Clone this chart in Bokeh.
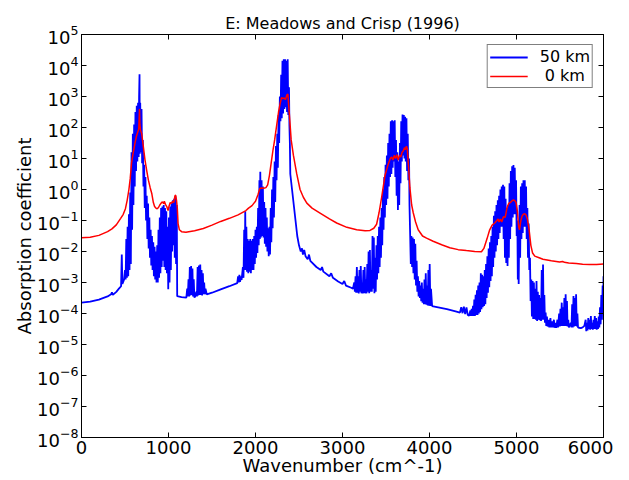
from bokeh.plotting import figure
from bokeh.models import (Range1d, FixedTicker, LinearAxis, LogAxis, Legend,
                          LegendItem, ColumnDataSource)
from bokeh.embed import file_html
from bokeh.resources import INLINE

# ---------------- data (wavenumber in cm^-1, log10 of absorption coefficient) -------------
title_text = "E: Meadows and Crisp (1996)"
x_ticks = [0, 1000, 2000, 3000, 4000, 5000, 6000]
y_ticks = [1e-8, 1e-7, 1e-6, 1e-5, 1e-4, 1e-3, 1e-2, 1e-1, 1e0, 1e1, 1e2, 1e3, 1e4, 1e5]
series_labels = ["50 km", "\u00a00 km"]

blue_50km = [
    (0, -3.65), (100, -3.62), (200, -3.55), (300, -3.45), (340, -3.38), (350, -3.32), (360, -3.4),
    (400, -3.3), (430, -3.2), (455, -3.12), (463, -2.1), (470, -3.05), (490, -2.9),
    (500, -2.6), (507, -2.9), (515, -1.6), (522, -2.85), (530, -1.2), (537, -2.8), (545, -0.8),
    (552, -2.6), (560, -0.1), (567, -2.4), (575, 1.2), (582, -1.3), (590, 1.8), (597, -0.5),
    (605, 2.1), (612, 0.1), (620, 2.5), (627, 0.6), (635, 2.7), (642, 0.9), (650, 2.8),
    (657, 1.05), (662, 3.0), (667, 3.72), (670, 1.15), (675, 2.8), (682, 1.2), (690, 2.6),
    (697, 0.85), (705, 1.6), (712, 0.1), (720, 0.8), (727, -0.6), (735, 0.4), (742, -1.0),
    (750, -0.2), (757, -1.6), (765, -0.45), (772, -1.9), (780, -0.9), (787, -2.2), (795, -1.3),
    (802, -2.45), (810, -1.5), (817, -2.6), (825, -1.7), (832, -2.8), (840, -1.85), (847, -2.9),
    (855, -2.0), (862, -3.0), (870, -1.8), (877, -3.0), (885, -1.3), (892, -2.85), (900, -0.9),
    (907, -2.7), (915, -0.6), (922, -2.5), (930, -0.55), (937, -2.3), (945, -0.5), (952, -2.5),
    (960, -0.6), (967, -2.6), (975, -0.7), (982, -2.7), (990, -1.2), (997, -3.22), (1005, -0.9),
    (1012, -3.0), (1020, -0.55), (1027, -2.6), (1035, -0.45), (1042, -2.0), (1050, -0.35),
    (1057, -1.8), (1065, -0.3), (1072, -2.2), (1080, -0.22), (1087, -2.4), (1095, -0.5),
    (1100, -3.44), (1150, -3.47), (1205, -3.49),
    (1215, -3.2), (1222, -3.45), (1230, -2.9), (1237, -3.45), (1245, -2.5), (1252, -3.42),
    (1260, -2.47), (1267, -3.4), (1275, -2.55), (1282, -3.45), (1290, -2.9), (1297, -3.48),
    (1305, -3.46), (1320, -3.3), (1327, -3.45), (1335, -2.5), (1342, -3.42), (1350, -2.45),
    (1357, -3.4), (1365, -2.42), (1372, -3.4), (1380, -2.6), (1387, -3.42), (1395, -2.7),
    (1402, -3.38), (1410, -3.0), (1417, -3.38), (1425, -3.2), (1440, -3.38),
    (1500, -3.33), (1600, -3.22), (1700, -3.12), (1790, -3.02), (1800, -2.8), (1808, -3.0),
    (1815, -2.75), (1822, -2.98), (1830, -2.8), (1840, -2.92),
    (1855, -2.5), (1862, -2.85), (1870, -1.3), (1877, -2.6), (1882, -0.7), (1888, -2.6),
    (1895, -1.2), (1902, -2.65), (1910, -1.6), (1917, -2.7), (1925, -1.65), (1932, -2.65),
    (1940, -1.6), (1947, -2.7), (1955, -1.65), (1962, -2.6), (1970, -1.6), (1977, -2.6),
    (1985, -1.5), (1992, -2.4), (2000, -1.3), (2007, -2.2), (2015, -1.2), (2022, -2.05),
    (2030, -0.6), (2037, -1.8), (2045, 0.3), (2050, -1.6), (2055, 0.57), (2062, -1.55),
    (2070, 0.3), (2077, -1.5), (2085, 0.1), (2092, -1.55), (2100, -0.4), (2107, -1.75),
    (2115, -0.6), (2122, -1.85), (2130, -0.9), (2137, -2.0), (2145, -1.25), (2152, -2.15),
    (2160, -1.2), (2167, -2.1), (2175, -0.6), (2182, -1.7), (2190, 0.0), (2197, -1.25),
    (2205, 0.4), (2212, -0.9), (2220, 0.9), (2227, -0.4), (2235, 1.4), (2242, 0.3),
    (2250, 1.8), (2257, 0.7), (2265, 2.4), (2272, 1.5), (2280, 3.0), (2287, 2.2),
    (2295, 3.7), (2302, 2.3), (2310, 4.15), (2317, 2.45), (2325, 4.2), (2332, 2.6),
    (2340, 4.2), (2347, 2.65), (2355, 4.15), (2362, 2.5), (2370, 4.2), (2377, 2.4),
    (2385, 3.3), (2390, 2.05), (2395, 1.5), (2400, 0.5), (2420, 0.0), (2440, -0.5),
    (2460, -1.0), (2480, -1.5), (2500, -1.8), (2520, -2.0), (2535, -1.9), (2545, -2.1),
    (2560, -1.95), (2575, -2.15), (2600, -2.25), (2615, -2.1), (2630, -2.3), (2700, -2.5),
    (2750, -2.6), (2765, -2.5), (2780, -2.65), (2850, -2.8), (2870, -2.7), (2890, -2.85),
    (2950, -2.97), (3000, -3.05), (3020, -2.95), (3040, -3.1), (3100, -3.17), (3120, -3.2),
    (3135, -3.0), (3142, -3.3), (3150, -2.8), (3157, -3.33), (3165, -2.5), (3172, -3.33),
    (3180, -2.8), (3187, -3.35), (3195, -2.6), (3202, -3.3), (3210, -2.47), (3217, -3.35),
    (3225, -3.0), (3232, -3.35), (3240, -2.6), (3247, -3.35), (3255, -2.5), (3262, -3.35),
    (3270, -2.9), (3277, -3.35), (3285, -2.4), (3292, -3.3), (3300, -2.0), (3307, -3.35),
    (3315, -1.95), (3322, -3.3), (3330, -2.6), (3337, -3.3), (3345, -1.5), (3352, -3.2),
    (3360, -1.55), (3367, -3.35), (3375, -2.2), (3382, -3.3), (3390, -1.8), (3397, -2.9),
    (3405, -1.5), (3412, -2.7), (3420, -1.2), (3427, -2.5), (3435, -0.9), (3442, -2.2),
    (3450, -0.6), (3457, -1.8), (3465, 0.0), (3472, -1.3), (3480, 0.4), (3487, -0.9),
    (3495, 0.8), (3502, -0.5), (3510, 1.1), (3517, -0.3), (3525, 1.5), (3532, 0.1),
    (3540, 1.8), (3547, 0.4), (3555, 2.2), (3562, 0.5), (3570, 2.23), (3577, 0.7),
    (3585, 2.2), (3592, 0.9), (3600, 2.23), (3607, 0.4), (3615, 1.6), (3622, -0.2),
    (3630, 1.2), (3637, -0.66), (3645, 0.9), (3652, -0.5), (3660, 1.5), (3667, 0.2),
    (3675, 2.2), (3682, 0.9), (3690, 2.42), (3697, 1.1), (3705, 2.4), (3712, 1.0),
    (3720, 2.35), (3727, 0.9), (3735, 2.3), (3742, 0.6), (3750, 1.8), (3757, 0.3),
    (3765, 1.0), (3770, -0.5), (3778, -1.5),
    (3785, -2.4), (3792, -1.5), (3800, -2.5), (3807, -1.55), (3815, -2.7), (3822, -1.6),
    (3830, -2.9), (3837, -1.75), (3845, -3.1), (3852, -2.3), (3860, -3.3), (3867, -2.8),
    (3875, -3.45), (3882, -2.95), (3890, -3.5), (3897, -3.1), (3905, -3.6), (3912, -3.0),
    (3920, -3.65), (3927, -3.2), (3935, -3.7), (3942, -2.9), (3950, -3.7), (3957, -2.7),
    (3965, -3.72), (3972, -3.1), (3980, -3.74), (3987, -2.6), (3995, -3.75), (4002, -2.4),
    (4010, -3.76), (4017, -3.2), (4030, -3.76), (4100, -3.8), (4200, -3.86), (4300, -3.93),
    (4350, -3.97), (4365, -3.8), (4380, -3.99), (4395, -3.78), (4410, -4.02), (4425, -3.8),
    (4440, -4.05), (4455, -4.07),
    (4470, -3.9), (4477, -4.08), (4485, -3.85), (4492, -4.08), (4500, -3.75), (4507, -4.08),
    (4515, -3.55), (4522, -4.08), (4530, -3.4), (4537, -4.05), (4545, -3.25), (4552, -4.05),
    (4560, -3.1), (4567, -4.0), (4575, -3.0), (4582, -3.95), (4590, -2.7), (4597, -3.86),
    (4605, -2.75), (4612, -3.8), (4620, -2.8), (4627, -3.76), (4635, -2.6), (4642, -3.7),
    (4650, -2.4), (4657, -3.5), (4665, -2.15), (4672, -3.33), (4680, -1.9), (4687, -3.15),
    (4695, -1.7), (4702, -2.95), (4710, -1.5), (4717, -2.8), (4725, -1.2), (4732, -2.5),
    (4740, -0.85), (4747, -2.2), (4755, -0.7), (4762, -2.0), (4770, -0.5), (4777, -1.8),
    (4785, -0.35), (4792, -1.6), (4800, -0.2), (4807, -1.4), (4815, 0.0), (4822, -1.2),
    (4830, 0.1), (4837, -1.2), (4845, 0.15), (4852, -1.6), (4860, 0.1), (4867, -2.2),
    (4875, -0.3), (4882, -2.37), (4890, -0.6), (4897, -2.47), (4905, -0.5), (4912, -2.2),
    (4920, 0.2), (4927, -1.6), (4935, 0.6), (4942, -1.2), (4950, 0.75), (4957, -0.9),
    (4965, 0.79), (4972, -0.8), (4980, 0.7), (4987, -0.8), (4995, 0.3), (5002, -1.5),
    (5010, -1.0), (5015, -2.9), (5020, -1.5), (5025, -3.05), (5035, -0.5), (5042, -2.2),
    (5050, 0.1), (5057, -1.6), (5065, 0.2), (5072, -1.4), (5080, 0.3), (5087, -1.2),
    (5095, 0.3), (5102, -1.2), (5110, 0.1), (5117, -1.6), (5125, -0.6), (5132, -2.2),
    (5140, -1.1), (5147, -2.6), (5155, -2.2), (5162, -3.6), (5170, -2.9), (5177, -4.1),
    (5185, -2.95), (5192, -4.18), (5200, -3.0), (5207, -4.18), (5215, -3.2), (5222, -4.2),
    (5230, -2.95), (5237, -4.24), (5245, -3.3), (5252, -4.2), (5260, -3.4), (5267, -4.22),
    (5275, -3.5), (5282, -4.24), (5290, -2.6), (5297, -4.2), (5305, -2.42), (5312, -4.2),
    (5320, -3.4), (5327, -4.3), (5335, -3.97), (5342, -4.4), (5350, -4.1), (5357, -4.42),
    (5370, -4.2), (5377, -4.45), (5390, -4.15), (5397, -4.45), (5410, -4.25), (5417, -4.45),
    (5430, -4.2), (5437, -4.46), (5450, -4.3), (5457, -4.46), (5470, -4.2), (5477, -4.45),
    (5490, -4.0), (5497, -4.42), (5505, -3.85), (5512, -4.4), (5520, -3.65), (5527, -4.4),
    (5535, -3.8), (5542, -4.4), (5550, -3.5), (5557, -4.4), (5565, -3.38), (5572, -4.4),
    (5580, -3.6), (5587, -4.42), (5595, -4.2), (5602, -4.45), (5610, -4.4), (5625, -4.3),
    (5632, -4.45), (5640, -3.7), (5647, -4.45), (5655, -3.44), (5662, -4.42), (5670, -3.5),
    (5677, -4.4), (5685, -3.38), (5692, -4.42), (5700, -4.0), (5707, -4.45), (5720, -4.46),
    (5740, -4.47), (5760, -4.45), (5780, -4.4), (5795, -4.2), (5802, -4.57), (5810, -4.3),
    (5817, -4.55), (5825, -4.15), (5832, -4.5), (5840, -4.2), (5847, -4.52), (5855, -4.08),
    (5862, -4.5), (5870, -4.3), (5877, -4.52), (5885, -4.2), (5892, -4.5), (5900, -4.08),
    (5907, -4.5), (5915, -4.15), (5922, -4.52), (5930, -4.25), (5937, -4.5), (5945, -4.1),
    (5952, -4.45), (5960, -3.8), (5967, -4.35), (5975, -3.4), (5982, -4.2), (5990, -3.1),
    (5995, -4.0), (6000, -2.8),
]

red_0km = [
    (0, -1.56), (100, -1.54), (200, -1.48), (300, -1.36), (350, -1.27), (400, -1.14),
    (450, -0.93), (480, -0.8), (505, -0.62), (525, -0.35), (545, 0.0), (560, 0.35),
    (575, 0.85), (595, 1.2), (615, 1.5), (630, 1.7), (646, 1.85), (658, 1.95), (663, 2.3),
    (667, 2.6), (671, 2.1), (678, 1.92), (692, 1.8), (710, 1.4), (730, 0.95), (750, 0.6),
    (769, 0.3), (790, 0.05), (807, -0.12), (826, -0.42), (840, -0.55), (855, -0.6),
    (870, -0.62), (885, -0.58), (900, -0.5), (915, -0.44), (930, -0.4), (945, -0.45),
    (952, -0.38), (965, -0.48), (980, -0.55), (995, -0.68), (1005, -0.55), (1020, -0.42),
    (1035, -0.45), (1045, -0.38), (1060, -0.42), (1075, -0.2), (1082, -0.18), (1092, -0.35),
    (1101, -0.6), (1110, -1.1), (1125, -1.3), (1150, -1.36), (1200, -1.38), (1300, -1.33),
    (1400, -1.26), (1500, -1.15), (1600, -1.03), (1700, -0.93), (1800, -0.82), (1890, -0.68),
    (1920, -0.6), (1960, -0.52), (2000, -0.38), (2030, -0.15), (2050, 0.03), (2070, 0.05),
    (2095, 0.04), (2120, 0.06), (2140, 0.15), (2160, 0.45), (2180, 0.85), (2200, 1.25),
    (2220, 1.6), (2245, 2.1), (2265, 2.5), (2285, 2.8), (2300, 2.97), (2315, 2.93),
    (2330, 2.95), (2345, 2.9), (2360, 3.05), (2372, 3.08), (2382, 2.7), (2395, 2.2),
    (2410, 1.6), (2436, 1.1), (2473, 0.52), (2512, 0.0), (2550, -0.25), (2590, -0.44),
    (2650, -0.6), (2742, -0.76), (2850, -0.95), (2933, -1.08), (3050, -1.22), (3163, -1.3),
    (3260, -1.33), (3316, -1.32), (3360, -1.25), (3392, -1.12), (3420, -0.75), (3450, -0.25),
    (3488, 0.45), (3526, 0.82), (3550, 1.0), (3565, 1.05), (3580, 0.95), (3595, 1.1),
    (3610, 1.0), (3625, 1.12), (3640, 0.95), (3655, 1.1), (3670, 1.05), (3685, 1.2),
    (3700, 1.25), (3712, 1.35), (3722, 1.28), (3735, 1.4), (3745, 1.3), (3760, 0.7),
    (3775, 0.05), (3795, -0.5), (3813, -0.75), (3840, -1.05), (3870, -1.3), (3920, -1.5),
    (3966, -1.57), (4042, -1.67), (4140, -1.78), (4233, -1.88), (4330, -1.94), (4424, -1.97),
    (4520, -2.0), (4597, -2.01), (4625, -1.9), (4660, -1.6), (4692, -1.3), (4720, -1.15),
    (4750, -1.08), (4775, -1.0), (4788, -0.95), (4800, -1.05), (4815, -0.95), (4830, -1.05),
    (4850, -0.88), (4870, -0.9), (4890, -0.6), (4910, -0.45), (4930, -0.42), (4950, -0.36),
    (4965, -0.34), (4980, -0.36), (4995, -0.42), (5010, -0.7), (5025, -1.2), (5035, -1.3),
    (5050, -1.0), (5065, -0.85), (5080, -0.8), (5095, -0.78), (5110, -0.82), (5125, -0.95),
    (5145, -1.3), (5165, -1.8), (5185, -2.05), (5210, -2.15), (5260, -2.2), (5304, -2.25),
    (5400, -2.3), (5495, -2.34), (5530, -2.32), (5550, -2.35), (5600, -2.37), (5687, -2.39),
    (5760, -2.41), (5840, -2.42), (5920, -2.42), (6000, -2.4),
]

# ---------------- figure -------------
FONT = "DejaVu Sans"

p = figure(width=613, height=478, output_backend="svg", toolbar_location=None,
           x_range=Range1d(0, 6000), y_range=Range1d(1e-8, 1e5), y_axis_type="log",
           title=title_text, min_border_left=81, min_border_right=10,
           min_border_top=34, min_border_bottom=20)

p.title.align = "center"
p.title.text_font = FONT
p.title.text_font_size = "16px"
p.title.text_font_style = "normal"
p.title.text_color = "black"
p.title.standoff = 4

p.grid.visible = False
p.outline_line_color = "black"
p.outline_line_width = 1
p.background_fill_color = "white"
p.border_fill_color = "white"

blue_src = ColumnDataSource(dict(x=[a for a, _ in blue_50km], y=[10 ** b for _, b in blue_50km]))
red_src = ColumnDataSource(dict(x=[a for a, _ in red_0km], y=[10 ** b for _, b in red_0km]))

r_blue = p.line("x", "y", source=blue_src, line_color="#0000ff", line_width=1.8)
r_red = p.line("x", "y", source=red_src, line_color="#ff0000", line_width=1.5)

xt = FixedTicker(ticks=x_ticks, minor_ticks=[])
yt = FixedTicker(ticks=y_ticks, minor_ticks=[])

bottom_ax = p.below[0]
left_ax = p.left[0]
bottom_ax.ticker = xt
left_ax.ticker = yt
bottom_ax.axis_label = "Wavenumber (cm^-1)"
left_ax.axis_label = "Absorption coefficient"

top_ax = LinearAxis(ticker=xt)
right_ax = LogAxis(ticker=yt)
p.add_layout(top_ax, "above")
p.add_layout(right_ax, "right")

for ax in [bottom_ax, left_ax, top_ax, right_ax]:
    ax.axis_line_color = "black"
    ax.major_tick_line_color = "black"
    ax.major_tick_in = 5
    ax.major_tick_out = 0
    ax.minor_tick_line_color = None
    ax.major_label_text_font = FONT
    ax.major_label_text_font_size = "18px"
    ax.major_label_text_color = "black"
    ax.axis_label_text_font = FONT
    ax.axis_label_text_font_size = "18px"
    ax.axis_label_text_font_style = "normal"
    ax.axis_label_text_color = "black"

# mirrored tick axes (top and right) carry ticks only, no labels
for ax in [top_ax, right_ax]:
    ax.major_label_text_font_size = "1px"
    ax.major_label_text_color = None
    ax.major_label_standoff = 0

bottom_ax.major_label_standoff = 3
bottom_ax.axis_label_standoff = -2
left_ax.major_label_standoff = 3
left_ax.axis_label_standoff = -1

legend = Legend(items=[LegendItem(label=series_labels[0], renderers=[r_blue]),
                       LegendItem(label=series_labels[1], renderers=[r_red])],
                location="top_right")
legend.border_line_color = "black"
legend.border_line_width = 1
legend.background_fill_color = "white"
legend.background_fill_alpha = 1
legend.label_text_font = FONT
legend.label_text_font_size = "16px"
legend.label_text_line_height = 1.0
legend.label_text_color = "black"
legend.glyph_width = 38
legend.glyph_height = 14
legend.label_height = 14
legend.label_standoff = 12
legend.padding = 2
legend.spacing = 0
legend.margin = 10
p.add_layout(legend)

open("out.html", "w").write(file_html(p, INLINE))
